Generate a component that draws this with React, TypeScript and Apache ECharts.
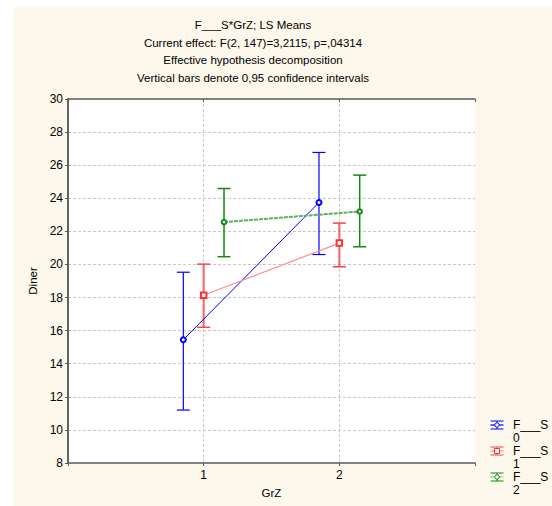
import React, { useEffect, useRef } from "react";
import * as echarts from "echarts";

const titleLines = [
  "F___S*GrZ; LS Means",
  "Current effect: F(2, 147)=3,2115, p=,04314",
  "Effective hypothesis decomposition",
  "Vertical bars denote 0,95 confidence intervals",
];
const xName = "GrZ";
const yName = "Diner";
const grzLevels = [1, 2];
const xTickLabels = ["1", "2"];
const groupNames = ["0", "1", "2"];
const legendPrefix = "F___S";

// LS means and 95% CI bounds per group (F___S = 0, 1, 2), at GrZ = 1, 2
const mean0 = [15.45, 23.74];
const low0 = [11.2, 20.6];
const high0 = [19.53, 26.77];
const mean1 = [18.14, 21.29];
const low1 = [16.2, 19.86];
const high1 = [20.02, 22.5];
const mean2 = [22.56, 23.2];
const low2 = [20.47, 21.07];
const high2 = [24.59, 25.4];

const means = [mean0, mean1, mean2];
const lows = [low0, low1, low2];
const highs = [high0, high1, high2];

// styling
const dodge = [-0.15, 0, 0.15];
const styles = [
  { line: "#0000ff", lineW: 1, lineType: "solid" as any, bar: "#0000ff", barW: 1.2, cap: "#0000ff", capW: 1.2, mark: "#0000ff", symbol: "emptyCircle", size: 5 },
  { line: "#ff8c8c", lineW: 1.2, lineType: "solid" as any, bar: "rgba(242,80,80,0.8)", barW: 2.2, cap: "#f24545", capW: 1.5, mark: "#ff3030", symbol: "emptyRect", size: 5.5 },
  { line: "#5caf5c", lineW: 2, lineType: [4, 1] as any, bar: "#108a10", barW: 1.5, cap: "#108a10", capW: 1.5, mark: "#108a10", symbol: "emptyCircle", size: 4.5 },
];

const FONT = "'Liberation Sans', Arial, sans-serif";

export default function App() {
  const ref = useRef<HTMLDivElement>(null);
  useEffect(() => {
    if (!ref.current) return;
    const chart = echarts.init(ref.current, null, { renderer: "svg" });

    const lineSeries = groupNames.map((g, i) => ({
      type: "line",
      name: g,
      z: 5,
      data: grzLevels.map((lv, j) => [lv + dodge[i], means[i][j]]),
      symbol: styles[i].symbol,
      symbolSize: styles[i].size,
      showSymbol: true,
      showAllSymbol: true,
      lineStyle: { color: styles[i].line, width: styles[i].lineW, type: styles[i].lineType },
      itemStyle: { color: styles[i].mark, borderColor: styles[i].mark, borderWidth: 1 },
      emphasis: { disabled: true },
    }));

    const barSeries = groupNames.map((g, i) => ({
      type: "custom",
      name: g + "ci",
      z: 3,
      data: grzLevels.map((lv, j) => [lv + dodge[i], means[i][j], lows[i][j], highs[i][j]]),
      encode: { x: 0, y: [1, 2, 3] },
      renderItem: (params: any, api: any) => {
        const x = api.value(0);
        const lo = api.coord([x, api.value(2)]);
        const hi = api.coord([x, api.value(3)]);
        const half = 6.5;
        const s = styles[i];
        return {
          type: "group",
          children: [
            { type: "line", shape: { x1: lo[0], y1: lo[1], x2: hi[0], y2: hi[1] }, style: { stroke: s.bar, lineWidth: s.barW } },
            { type: "line", shape: { x1: hi[0] - half, y1: hi[1], x2: hi[0] + half, y2: hi[1] }, style: { stroke: s.cap, lineWidth: s.capW } },
            { type: "line", shape: { x1: lo[0] - half, y1: lo[1], x2: lo[0] + half, y2: lo[1] }, style: { stroke: s.cap, lineWidth: s.capW } },
          ],
        };
      },
    }));

    // legend drawn with graphic elements
    const legendEls: any[] = [];
    groupNames.forEach((g, i) => {
      const y0 = 425 + 26 * i;
      const s = styles[i];
      const cx = 497;
      legendEls.push(
        { type: "line", shape: { x1: 490.5, y1: y0 - 4, x2: 503.5, y2: y0 - 4 }, style: { stroke: s.cap, lineWidth: 1 } },
        { type: "line", shape: { x1: 490.5, y1: y0 + 4, x2: 503.5, y2: y0 + 4 }, style: { stroke: s.cap, lineWidth: 1 } },
        { type: "line", shape: { x1: 490.5, y1: y0, x2: 503.5, y2: y0 }, style: { stroke: s.line, lineWidth: 1.2, lineDash: i === 2 ? [3, 1] : null } },
        { type: "line", shape: { x1: cx, y1: y0 - 4, x2: cx, y2: y0 + 4 }, style: { stroke: s.bar, lineWidth: 1 } },
        i === 1
          ? { type: "rect", shape: { x: cx - 2.5, y: y0 - 2.5, width: 5, height: 5 }, style: { fill: "#fff", stroke: s.mark, lineWidth: 1 } }
          : { type: "circle", shape: { cx, cy: y0, r: 2.2 }, style: { fill: "#fff", stroke: s.mark, lineWidth: 1 } },
        { type: "text", x: 513, y: y0, style: { text: legendPrefix, font: `12px ${FONT}`, fill: "#000", textVerticalAlign: "middle" } },
        { type: "text", x: 513, y: y0 + 12.5, style: { text: g, font: `12px ${FONT}`, fill: "#000", textVerticalAlign: "middle" } }
      );
    });

    const axisLineStyle = { color: "#5a5a5a", width: 1.5 };
    const splitStyle = { color: "#c8c8c8", type: [3, 2] as any, width: 1 };

    chart.setOption({
      animation: false,
      backgroundColor: "#ffffff",
      textStyle: { fontFamily: FONT },
      title: {
        text: titleLines.join("\n"),
        left: 253,
        top: 16,
        textAlign: "center",
        padding: 0,
        textStyle: { fontSize: 11.5, fontWeight: "normal", color: "#000", lineHeight: 17.7, fontFamily: FONT },
      },
      graphic: [
        { type: "rect", z: -100, silent: true, shape: { x: 13, y: 7, width: 539, height: 499 }, style: { fill: "#fdf8ec" } },
        { type: "group", z: 100, children: legendEls },
      ],
      grid: { left: 68, top: 99, width: 407, height: 364, show: true, backgroundColor: "#ffffff", borderWidth: 0 },
      xAxis: [
        {
          type: "value",
          min: 0,
          max: 3,
          interval: 1,
          position: "bottom",
          name: xName,
          nameLocation: "middle",
          nameGap: 24,
          nameTextStyle: { fontSize: 11.5, color: "#000", fontFamily: FONT },
          axisLine: { show: true, lineStyle: axisLineStyle },
          axisTick: { show: true, length: 3, lineStyle: { color: "#5a5a5a" } },
          axisLabel: {
            fontSize: 12,
            color: "#000",
            fontFamily: FONT,
            margin: 6,
            formatter: (v: number) => {
              const k = grzLevels.indexOf(v);
              return k >= 0 ? xTickLabels[k] : "";
            },
          },
          splitLine: { show: true, showMinLine: false, showMaxLine: false, lineStyle: splitStyle },
        },
        {
          type: "value",
          min: 0,
          max: 3,
          interval: 1,
          position: "top",
          axisLine: { show: true, lineStyle: axisLineStyle },
          axisTick: { show: true, inside: true, length: 3, lineStyle: { color: "#5a5a5a" } },
          axisLabel: { show: false },
          splitLine: { show: false },
        },
      ],
      yAxis: [
        {
          type: "value",
          min: 8,
          max: 30,
          interval: 2,
          position: "left",
          name: yName,
          nameLocation: "middle",
          nameGap: 29,
          nameTextStyle: { fontSize: 11.5, color: "#000", fontFamily: FONT },
          axisLine: { show: true, lineStyle: axisLineStyle },
          axisTick: { show: true, length: 3, lineStyle: { color: "#5a5a5a" } },
          axisLabel: { fontSize: 12, color: "#000", fontFamily: FONT, margin: 5 },
          splitLine: { show: true, showMinLine: false, showMaxLine: false, lineStyle: splitStyle },
        },
        {
          type: "value",
          min: 8,
          max: 30,
          interval: 2,
          position: "right",
          axisLine: { show: true, lineStyle: axisLineStyle },
          axisTick: { show: true, inside: true, length: 3, lineStyle: { color: "#5a5a5a" } },
          axisLabel: { show: false },
          splitLine: { show: false },
        },
      ],
      series: [...barSeries, ...lineSeries],
    });
    return () => chart.dispose();
  }, []);
  return <div ref={ref} style={{ position: "absolute", left: 0, top: 0, width: 552, height: 506 }} />;
}
